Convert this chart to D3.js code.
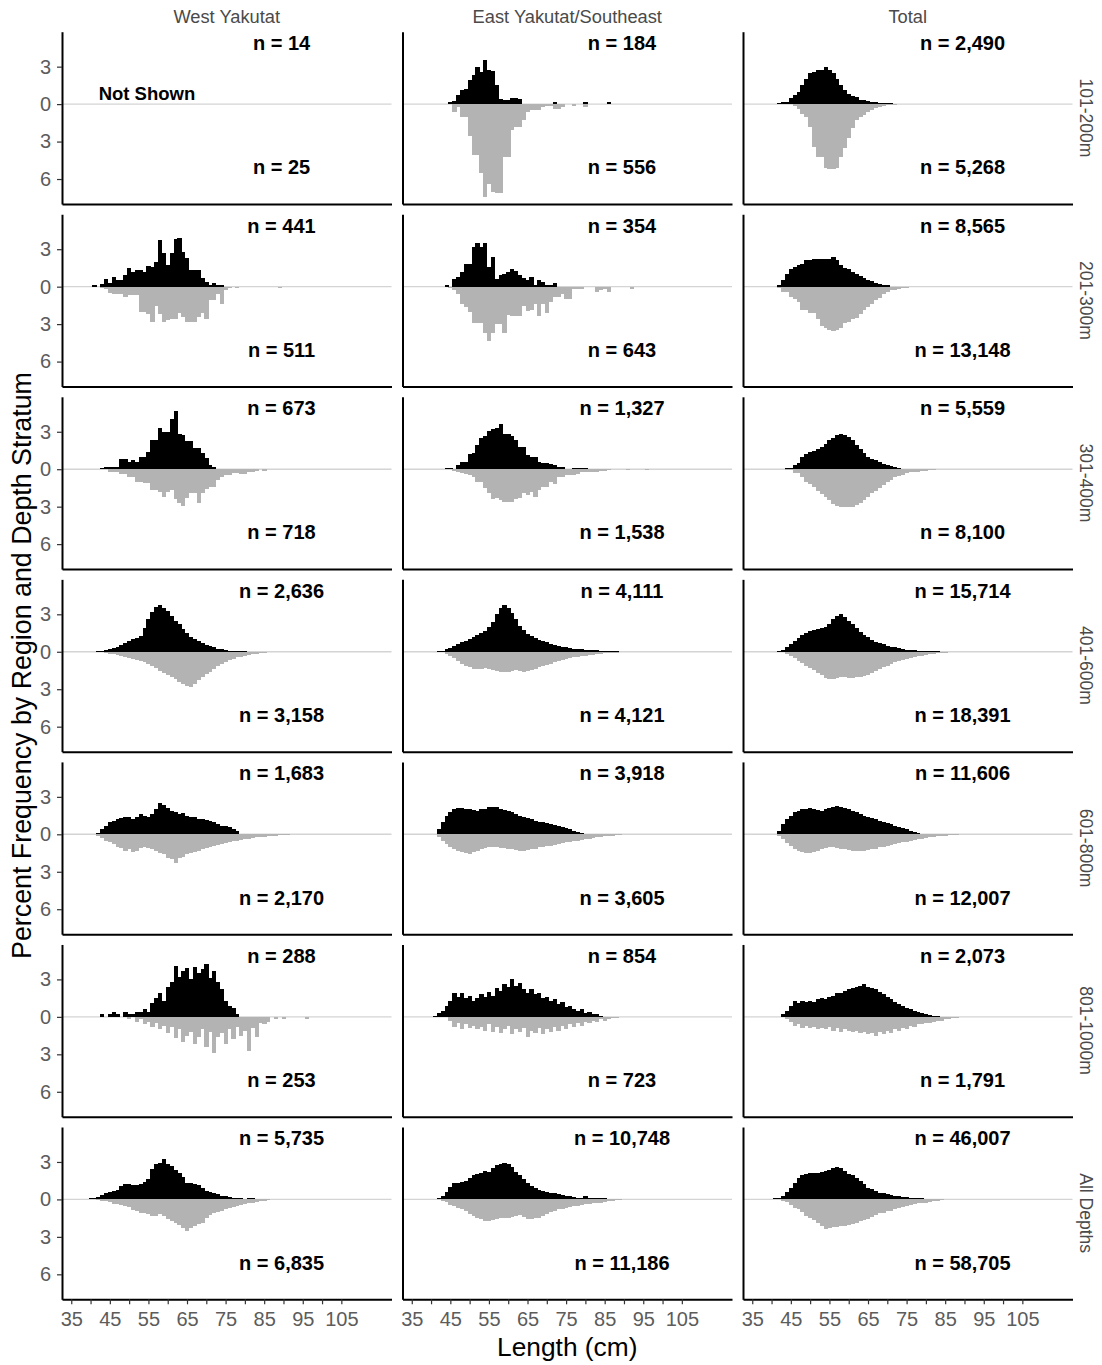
<!DOCTYPE html>
<html><head><meta charset="utf-8">
<script src="https://cdn.jsdelivr.net/npm/d3@7"></script>
<style>body{margin:0;background:#fff} text{font-family:"Liberation Sans",Arial,sans-serif}</style>
</head><body><svg id="c" width="1102" height="1365"></svg>
<script>
// ---------- categories / labels ----------
const regions = ["West Yakutat", "East Yakutat/Southeast", "Total"];
const depths = ["101-200m", "201-300m", "301-400m", "401-600m", "601-800m", "801-1000m", "All Depths"];
const nMale = [[14,184,2490],[441,354,8565],[673,1327,5559],[2636,4111,15714],[1683,3918,11606],[288,854,2073],[5735,10748,46007]];
const nFemale = [[25,556,5268],[511,643,13148],[718,1538,8100],[3158,4121,18391],[2170,3605,12007],[253,723,1791],[6835,11186,58705]];
const xTickValues = [35,40,45,50,55,60,65,70,75,80,85,90,95,100,105];
const xTickLabels = [35,45,55,65,75,85,95,105];
const yTickValues = [3,0,-3,-6];
const xTitle = "Length (cm)";
const yTitle = "Percent Frequency by Region and Depth Stratum";
const notShownText = "Not Shown";

// ---------- series: percent per 1-cm length bin, starting at `start` ----------
const S = (start, pct) => ({start, pct});
// 101-200m
const m101_EY = S(45,[0.135,0.27,0.72,1.1,1.25,1.9,2.3,3.0,2.6,3.5,2.7,2.65,1.5,0.4,0.3,0.3,0.5,0.5,0.4,0,0,0,0,0,0,0,0,0.135,0,0,0,0,0,0,0,0.135,0,0,0,0,0,0.135]);
const f101_EY = S(46,[0.67,0.27,1.07,1.07,2.56,4.1,4.1,5.5,7.4,6.4,7.0,7.1,7.1,4.2,4.2,2.1,1.8,1.8,1.3,0.6,0.5,0.5,0.5,0.2,0.15,0.15,0.4,0.4,0.2,0,0,0.15,0,0,0.27]);
const m101_TOT = S(42,[0.05,0.15,0.2,0.45,0.7,1.0,1.5,2.05,2.5,2.6,2.7,2.75,3.0,2.7,2.5,2.05,1.5,1.1,0.8,0.65,0.55,0.35,0.3,0.25,0.15,0.15,0.12,0.1,0.08,0.05,0.04,0,0,0,0,0,0,0,0.03,0,0,0,0,0,0.03]);
const f101_TOT = S(46,[0.15,0.4,0.8,1.0,1.8,3.4,4.2,4.2,5.15,5.2,5.2,5.15,4.2,3.5,2.7,1.95,1.3,1.05,0.9,0.65,0.5,0.35,0.2,0.15,0.1,0.05,0.05]);
// 201-300m
const m201_WY = S(41,[0.1,0,0.2,0.6,0.27,0.8,0.5,0.55,0.95,1.5,1.15,1.35,1.35,1.2,1.65,1.6,2.0,3.7,2.7,1.75,2.7,3.85,3.9,2.8,2.3,1.35,1.35,1.35,0.72,0.4,0.13,0.27,0.1,0.1]);
const f201_WY = S(43,[0.13,0.2,0.5,0.55,0.6,0.6,0.85,0.7,0.7,0.7,2.0,2.0,2.15,2.8,1.55,2.15,2.8,2.7,2.55,2.55,2.1,2.4,2.8,2.8,2.8,2.4,2.1,2.6,1.07,1.07,0.55,1.35,0.25,0.1,0,0.13,0,0,0,0,0,0,0,0,0,0,0.13]);
const m201_EY = S(44,[0.1,0,0.6,0.75,1.2,1.8,1.8,3.2,3.5,3.15,3.5,1.6,2.4,0.6,0.9,1.0,1.2,1.4,1.25,0.95,0.7,0.55,0.75,0.1,0.5,0.35,0.15,0.15,0.27]);
const f201_EY = S(45,[0.13,0.3,0.6,1.35,1.6,2.0,2.95,2.95,2.95,3.7,4.35,3.7,3.0,3.0,3.7,2.3,2.35,2.35,2.35,1.55,1.95,1.9,1.4,2.35,1.4,2.1,1.2,0.8,0.85,0.6,0.95,0.95,0.2,0.2,0.2,0,0,0,0.45,0.3,0.2,0.45,0,0,0,0,0,0.15]);
const m201_TOT = S(42,[0.15,0.55,1.05,1.45,1.6,1.7,1.8,2.15,2.15,2.2,2.2,2.2,2.25,2.25,2.35,2.15,1.75,1.5,1.4,1.2,1.0,0.85,0.7,0.55,0.45,0.3,0.2,0.15,0.1]);
const f201_TOT = S(42,[0.1,0.4,0.4,0.8,1.0,1.2,1.9,1.9,2.1,2.1,2.55,3.15,3.35,3.5,3.55,3.45,3.35,2.95,2.8,2.6,2.5,2.2,1.9,1.6,1.35,1.1,0.9,0.6,0.45,0.3,0.25,0.2,0.1,0.08,0.05]);
// 301-400m
const m301_WY = S(43,[0.1,0.2,0.2,0.2,0.2,0.8,0.8,0.55,0.7,0.55,0.95,0.95,1.4,2.35,2.35,3.3,3.0,3.0,4.0,4.65,2.85,2.75,2.25,2.25,1.7,1.7,1.3,0.9,0.35,0.15]);
const f301_WY = S(45,[0.2,0.2,0.25,0.4,0.4,0.65,0.65,1.0,1.0,1.1,1.1,1.65,1.65,1.8,2.2,1.8,1.65,2.35,2.7,2.95,2.3,1.9,1.9,2.7,1.9,1.55,1.4,1.4,0.9,0.65,0.5,0.5,0.3,0.3,0.4,0.4,0.25,0.25,0.15,0,0.13]);
const m301_EY = S(44,[0.1,0.1,0.05,0.3,0.6,0.6,1.25,1.3,1.95,2.5,2.7,3.05,3.2,3.3,3.65,2.85,2.85,2.7,2.3,1.8,1.8,1.15,1.0,1.0,0.6,0.5,0.5,0.45,0.3,0.2,0.2,0.05,0,0.1,0.1,0.1,0.1]);
const f301_EY = S(46,[0.15,0.2,0.3,0.35,0.45,0.6,1.0,1.0,1.5,1.9,2.35,2.3,2.45,2.6,2.6,2.6,2.35,2.3,1.9,2.05,1.8,2.2,1.65,1.45,1.4,1.05,1.2,0.65,0.65,0.45,0.5,0.45,0.4,0.25,0.25,0.25,0.2,0.2,0.15,0.13,0.1,0,0,0,0,0.07,0,0,0,0,0.07]);
const m301_TOT = S(44,[0.1,0.1,0.3,0.5,1.0,1.2,1.35,1.45,1.6,1.8,2.0,2.35,2.5,2.75,2.8,2.75,2.55,2.35,1.95,1.65,1.27,0.95,0.85,0.75,0.55,0.4,0.35,0.25,0.15,0.1]);
const f301_TOT = S(44,[0.1,0.1,0.3,0.3,0.65,1.0,1.2,1.4,1.75,2.0,2.2,2.45,2.8,2.95,3.05,3.05,3.05,3.05,2.85,2.7,2.45,2.2,1.9,1.75,1.5,1.3,1.05,0.85,0.65,0.55,0.45,0.3,0.25,0.2,0.2,0.15,0.13,0.1,0.1]);
// 401-600m
const m401_WY = S(42,[0.05,0.1,0.15,0.2,0.3,0.4,0.55,0.7,0.85,1.0,1.1,1.3,1.9,2.6,3.2,3.6,3.75,3.5,3.3,2.9,2.5,2.2,1.8,1.5,1.2,1.0,0.85,0.7,0.55,0.45,0.35,0.25,0.2,0.15,0.1,0.08,0.06,0.05,0.04]);
const f401_WY = S(43,[0.05,0.1,0.15,0.2,0.25,0.3,0.4,0.5,0.55,0.65,0.75,0.85,0.95,1.1,1.3,1.55,1.7,1.85,2.0,2.2,2.4,2.55,2.75,2.8,2.55,2.3,2.05,1.8,1.6,1.35,1.1,0.95,0.8,0.65,0.55,0.45,0.4,0.3,0.25,0.2,0.15,0.1,0.07,0.05]);
const m401_EY = S(42,[0.05,0.1,0.2,0.3,0.45,0.6,0.75,0.9,1.05,1.2,1.35,1.5,1.7,2.0,2.4,3.0,3.5,3.75,3.5,3.1,2.6,2.1,1.75,1.45,1.25,1.1,0.95,0.85,0.75,0.65,0.55,0.48,0.42,0.36,0.3,0.26,0.22,0.2,0.17,0.15,0.13,0.11,0.1,0.08,0.07,0.06,0.05]);
const f401_EY = S(43,[0.05,0.15,0.3,0.5,0.75,0.95,1.1,1.25,1.35,1.4,1.35,1.3,1.35,1.45,1.55,1.6,1.65,1.6,1.55,1.5,1.55,1.6,1.55,1.45,1.35,1.25,1.15,1.05,0.95,0.85,0.75,0.65,0.6,0.5,0.45,0.4,0.35,0.3,0.25,0.22,0.18,0.15,0.12,0.1,0.08,0.06,0.05,0.04,0.03]);
const m401_TOT = S(42,[0.05,0.15,0.35,0.6,0.85,1.1,1.35,1.5,1.65,1.75,1.8,1.9,2.0,2.2,2.6,2.9,3.0,2.8,2.5,2.2,1.9,1.6,1.35,1.15,0.95,0.8,0.7,0.6,0.5,0.42,0.35,0.28,0.22,0.18,0.15,0.12,0.1,0.08,0.06,0.05,0.04,0.03]);
const f401_TOT = S(43,[0.05,0.15,0.3,0.5,0.7,0.9,1.1,1.3,1.5,1.7,1.9,2.1,2.2,2.2,2.1,2.05,2.05,2.1,2.1,2.05,2.0,1.95,1.85,1.7,1.55,1.4,1.25,1.1,0.95,0.85,0.75,0.65,0.55,0.48,0.42,0.36,0.3,0.25,0.2,0.16,0.12,0.1,0.07,0.05,0.04]);
// 601-800m
const m601_WY = S(42,[0.1,0.4,0.7,0.95,1.1,1.2,1.3,1.4,1.35,1.2,1.4,1.6,1.5,1.4,1.6,2.0,2.5,2.35,2.1,1.9,1.8,1.6,1.7,1.5,1.4,1.35,1.25,1.2,1.15,1.1,0.95,0.8,0.7,0.65,0.6,0.45,0.25]);
const f601_WY = S(42,[0.1,0.3,0.5,0.6,0.8,1.0,1.1,1.3,1.2,1.4,1.3,1.1,1.0,1.1,1.2,1.3,1.5,1.6,1.9,2.0,2.3,1.9,1.8,1.6,1.5,1.4,1.3,1.2,1.1,1.0,0.9,0.85,0.8,0.7,0.6,0.55,0.5,0.45,0.4,0.35,0.3,0.25,0.22,0.2,0.15,0.12,0.1,0.08,0.06,0.05]);
const m601_EY = S(42,[0.4,1.0,1.5,1.8,2.0,2.1,2.1,2.05,2.0,1.95,1.9,2.0,2.05,2.15,2.2,2.15,2.05,1.95,1.85,1.75,1.6,1.5,1.4,1.3,1.2,1.1,1.0,0.95,0.9,0.8,0.75,0.7,0.6,0.5,0.4,0.3,0.2,0.1]);
const f601_EY = S(42,[0.2,0.5,0.8,1.0,1.2,1.3,1.4,1.5,1.55,1.45,1.3,1.2,1.1,1.0,1.0,1.05,1.1,1.1,1.15,1.2,1.25,1.3,1.3,1.25,1.2,1.15,1.05,1.0,0.95,0.9,0.85,0.8,0.7,0.65,0.6,0.55,0.5,0.45,0.4,0.35,0.3,0.25,0.2,0.15,0.12,0.1,0.08,0.05]);
const m601_TOT = S(42,[0.3,0.8,1.2,1.5,1.75,1.9,2.0,2.05,2.1,2.0,1.95,1.9,2.0,2.1,2.2,2.3,2.2,2.1,2.0,1.9,1.75,1.6,1.5,1.4,1.3,1.2,1.1,1.0,0.9,0.8,0.7,0.6,0.5,0.4,0.3,0.2,0.12,0.06]);
const f601_TOT = S(42,[0.15,0.4,0.7,0.95,1.15,1.3,1.4,1.5,1.5,1.4,1.3,1.2,1.1,1.05,1.05,1.1,1.15,1.2,1.25,1.3,1.35,1.35,1.3,1.25,1.2,1.15,1.05,1.0,0.95,0.85,0.8,0.7,0.65,0.6,0.52,0.45,0.4,0.35,0.3,0.25,0.2,0.16,0.13,0.1,0.08,0.06,0.05]);
// 801-1000m
const m801_WY = S(43,[0.2,0,0.2,0.4,0.2,0,0.4,0.2,0.2,0.4,0.4,0.6,0.4,1.1,1.5,1.9,1.3,2.4,2.8,4.1,3.2,3.7,3.9,3.0,4.0,3.5,3.8,4.2,3.1,3.7,2.8,2.2,1.3,0.9,0.7,0.2]);
const f801_WY = S(50,[0.2,0,0.4,0.2,0.6,0.4,0.8,0.5,1.0,0.7,1.3,0.8,1.7,1.0,2.0,1.5,1.2,2.2,1.6,1.0,2.4,1.2,2.9,1.6,1.3,2.2,1.0,1.8,0.8,1.5,1.1,2.7,0.9,1.6,0.5,0.6,0.4,0,0.2,0,0.2,0,0,0,0,0,0.2]);
const m801_EY = S(41,[0.1,0.3,0.5,0.9,1.3,1.9,1.6,1.9,1.5,1.7,1.3,1.5,1.8,1.6,2.0,1.7,2.3,2.1,2.6,2.4,3.0,2.5,2.7,2.2,1.9,2.2,1.8,1.9,1.5,1.6,1.3,1.4,1.0,1.2,0.8,0.9,0.6,0.5,0.6,0.3,0.4,0.2,0.2,0.1]);
const f801_EY = S(45,[0.3,0.8,0.5,1.0,0.6,0.9,0.7,1.0,0.8,1.1,0.6,1.2,0.8,1.3,1.0,0.7,1.4,1.0,1.2,0.9,1.6,1.1,1.3,0.9,1.4,1.0,1.2,0.8,1.1,0.7,1.0,0.6,0.8,0.5,0.7,0.4,0.5,0.3,0.4,0.2,0.3,0.2,0.1,0.1]);
const m801_TOT = S(43,[0.2,0.5,0.9,1.3,1.1,1.3,1.2,1.3,1.2,1.4,1.5,1.4,1.6,1.7,1.9,1.9,2.1,2.2,2.3,2.4,2.5,2.6,2.4,2.3,2.2,2.0,1.8,1.6,1.4,1.2,1.0,0.85,0.7,0.6,0.5,0.4,0.3,0.2,0.15,0.1,0.05]);
const f801_TOT = S(44,[0.2,0.4,0.7,0.6,0.9,0.7,0.9,0.8,1.0,0.9,1.0,0.8,1.1,0.9,1.2,1.0,1.1,1.2,1.1,1.3,1.2,1.4,1.3,1.5,1.2,1.4,1.1,1.3,1.0,1.1,0.9,1.0,0.7,0.8,0.6,0.6,0.5,0.5,0.4,0.35,0.3,0.2,0.15,0.1,0.1,0.05]);
// All depths
const mAll_WY = S(39,[0.05,0.1,0.1,0.2,0.35,0.5,0.6,0.7,0.75,1.05,1.2,1.25,1.15,1.15,1.2,1.4,1.6,2.45,2.85,2.9,3.2,2.8,2.7,2.35,2.1,1.8,1.35,1.3,1.2,1.15,0.95,0.7,0.6,0.55,0.4,0.3,0.25,0.2,0.1,0.1,0.1,0.05,0.1,0.1]);
const fAll_WY = S(42,[0.05,0.1,0.1,0.2,0.4,0.4,0.45,0.5,0.6,0.85,0.9,1.05,1.1,1.2,1.35,1.35,1.2,1.3,1.6,1.75,1.85,2.05,2.25,2.55,2.3,2.15,1.95,1.85,1.5,1.25,1.1,1.0,0.9,0.75,0.65,0.6,0.55,0.45,0.4,0.3,0.25,0.2,0.12,0.1,0.08]);
const mAll_EY = S(41,[0.05,0.1,0.3,0.6,1.0,1.3,1.35,1.4,1.45,1.7,1.95,2.05,2.1,2.25,2.2,2.55,2.75,2.85,2.9,2.85,2.6,2.2,1.95,1.65,1.35,1.1,0.95,0.75,0.7,0.6,0.55,0.5,0.45,0.38,0.3,0.26,0.22,0.15,0.15,0.25,0.1,0.1,0.1,0.1,0.08]);
const fAll_EY = S(43,[0.1,0.2,0.45,0.55,0.7,0.8,0.9,1.15,1.35,1.45,1.6,1.7,1.7,1.65,1.55,1.45,1.5,1.5,1.4,1.3,1.27,1.4,1.55,1.55,1.5,1.45,1.35,1.15,1.0,0.9,0.8,0.75,0.7,0.6,0.55,0.5,0.45,0.4,0.35,0.3,0.3,0.25,0.18,0.15,0.12,0.08,0.06]);
const mAll_TOT = S(40,[0.05,0.08,0.12,0.3,0.58,0.9,1.35,1.75,1.95,2.05,2.1,2.1,2.1,2.2,2.25,2.35,2.5,2.6,2.5,2.25,2.05,1.95,1.7,1.45,1.2,0.95,0.8,0.65,0.55,0.48,0.4,0.35,0.28,0.24,0.2,0.16,0.14,0.12,0.1,0.08,0.07,0.06,0.05]);
const fAll_TOT = S(43,[0.1,0.2,0.42,0.65,0.8,1.0,1.3,1.5,1.65,1.85,2.1,2.4,2.25,2.2,2.2,2.15,2.1,2.05,2.0,1.9,1.75,1.65,1.55,1.4,1.25,1.1,1.05,0.95,0.9,0.8,0.7,0.6,0.5,0.42,0.38,0.32,0.28,0.25,0.18,0.15,0.1,0.08]);

// grid of series (rows = depth strata, cols = regions)
const maleGrid = [
  [null, m101_EY, m101_TOT],
  [m201_WY, m201_EY, m201_TOT],
  [m301_WY, m301_EY, m301_TOT],
  [m401_WY, m401_EY, m401_TOT],
  [m601_WY, m601_EY, m601_TOT],
  [m801_WY, m801_EY, m801_TOT],
  [mAll_WY, mAll_EY, mAll_TOT]
];
const femaleGrid = [
  [null, f101_EY, f101_TOT],
  [f201_WY, f201_EY, f201_TOT],
  [f301_WY, f301_EY, f301_TOT],
  [f401_WY, f401_EY, f401_TOT],
  [f601_WY, f601_EY, f601_TOT],
  [f801_WY, f801_EY, f801_TOT],
  [fAll_WY, fAll_EY, fAll_TOT]
];

// ---------- layout ----------
const colLeft = [62, 402.5, 743];
const panelW = 329.5;
const rowTop0 = 31.7, rowStep = 182.55, panelH = 172.3;
const xDomain = [32.6, 118];
const yDomain = [-8, 5.8];
const fmt = d3.format(",");
const FONT = "'Liberation Sans',Arial,sans-serif";

const svg = d3.select("#c");
svg.append("rect").attr("width", 1102).attr("height", 1365).attr("fill", "#fff");

const toBins = s => s ? s.pct.map((v, i) => ({len: s.start + i, v})).filter(d => d.v > 0) : [];

depths.forEach((dep, r) => {
  const T = rowTop0 + r * rowStep;
  regions.forEach((reg, c) => {
    const L = colLeft[c];
    const x = d3.scaleLinear().domain(xDomain).range([L, L + panelW]);
    const y = d3.scaleLinear().domain(yDomain).range([T + panelH, T]);
    const g = svg.append("g");

    // zero reference line
    g.append("line")
      .attr("x1", L).attr("x2", L + panelW)
      .attr("y1", y(0)).attr("y2", y(0))
      .attr("stroke", "#d4d4d4").attr("stroke-width", 1.4);

    const bars = g.append("g").attr("shape-rendering", "crispEdges");
    // male bars (up)
    bars.selectAll("rect.m").data(toBins(maleGrid[r][c])).join("rect")
      .attr("class", "m")
      .attr("x", d => x(d.len - 0.5))
      .attr("width", d => x(d.len + 0.5) - x(d.len - 0.5) + 0.4)
      .attr("y", d => y(d.v))
      .attr("height", d => y(0) - y(d.v))
      .attr("fill", "#000");

    // female bars (down)
    bars.selectAll("rect.f").data(toBins(femaleGrid[r][c])).join("rect")
      .attr("class", "f")
      .attr("x", d => x(d.len - 0.5))
      .attr("width", d => x(d.len + 0.5) - x(d.len - 0.5) + 0.4)
      .attr("y", y(0))
      .attr("height", d => y(-d.v) - y(0))
      .attr("fill", "#b3b3b3");

    // y axis (ticks + labels only in first column)
    const ya = g.append("g").attr("transform", `translate(${L},0)`)
      .call(d3.axisLeft(y).tickValues(c === 0 ? yTickValues : [])
        .tickFormat(d => String(Math.abs(d)))
        .tickSize(5).tickSizeOuter(0).tickPadding(6));
    ya.select(".domain").attr("stroke", "#000").attr("stroke-width", 2);
    ya.selectAll(".tick line").attr("stroke", "#333").attr("stroke-width", 1.2);
    ya.selectAll(".tick text").attr("fill", "#5c5c5c").attr("font-size", 20)
      .attr("font-family", FONT);

    // x axis (ticks + labels only in bottom row)
    const isBottom = r === depths.length - 1;
    const xa = g.append("g").attr("transform", `translate(0,${T + panelH})`)
      .call(d3.axisBottom(x).tickValues(isBottom ? xTickValues : [])
        .tickFormat(d => xTickLabels.includes(d) ? String(d) : "")
        .tickSize(5).tickSizeOuter(0).tickPadding(8));
    xa.select(".domain").attr("stroke", "#000").attr("stroke-width", 2);
    xa.selectAll(".tick line").attr("stroke", "#333").attr("stroke-width", 1.2);
    xa.selectAll(".tick text").attr("fill", "#5c5c5c").attr("font-size", 20)
      .attr("font-family", FONT);

    // n labels
    g.append("text").attr("x", x(89.5)).attr("y", y(4.9)).attr("dy", "0.36em")
      .attr("text-anchor", "middle").attr("font-weight", "bold").attr("font-size", 20)
      .attr("fill", "#000").text(`n = ${fmt(nMale[r][c])}`);
    g.append("text").attr("x", x(89.5)).attr("y", y(-5.05)).attr("dy", "0.36em")
      .attr("text-anchor", "middle").attr("font-weight", "bold").attr("font-size", 20)
      .attr("fill", "#000").text(`n = ${fmt(nFemale[r][c])}`);

    if (!maleGrid[r][c]) {
      g.append("text").attr("x", x(42.1)).attr("y", y(0.35))
        .attr("font-weight", "bold").attr("font-size", 18.5).attr("fill", "#000")
        .text(notShownText);
    }

    // top strip labels
    if (r === 0) {
      svg.append("text").attr("x", L + panelW / 2).attr("y", 23.3)
        .attr("text-anchor", "middle").attr("font-size", 18.3).attr("fill", "#4a4a4a")
        .text(reg);
    }
  });
  // right strip labels
  svg.append("text")
    .attr("transform", `translate(1086,${T + panelH / 2}) rotate(90)`)
    .attr("text-anchor", "middle").attr("dy", "0.35em")
    .attr("font-size", 17.5).attr("fill", "#4a4a4a").text(dep);
});

// axis titles
svg.append("text").attr("x", (colLeft[0] + colLeft[2] + panelW) / 2).attr("y", 1356)
  .attr("text-anchor", "middle").attr("font-size", 26.3).attr("fill", "#000").text(xTitle);
svg.append("text")
  .attr("transform", `translate(31,${rowTop0 + (rowStep * 6 + panelH) / 2}) rotate(-90)`)
  .attr("text-anchor", "middle").attr("font-size", 26.8).attr("fill", "#000").text(yTitle);
</script>
</body></html>
